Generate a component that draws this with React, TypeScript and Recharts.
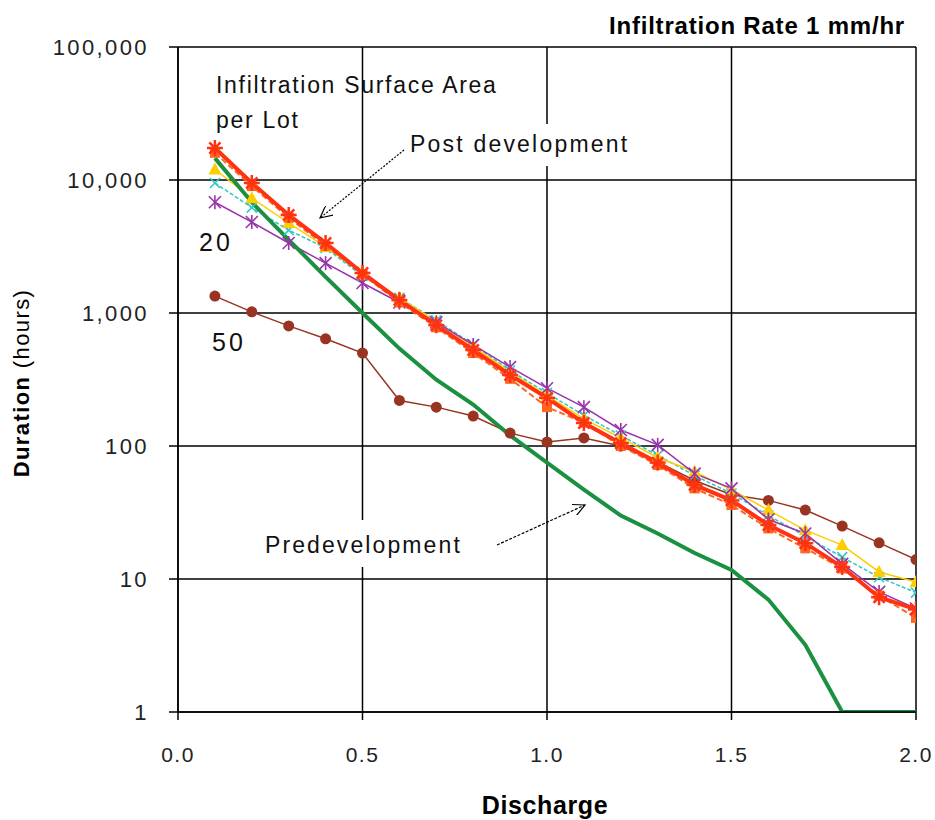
import { LineChart, Line, XAxis, YAxis, CartesianGrid } from 'recharts'

const discharge = [0.1, 0.2, 0.3, 0.4, 0.5, 0.6, 0.7, 0.8, 0.9, 1.0, 1.1, 1.2, 1.3, 1.4, 1.5, 1.6, 1.7, 1.8, 1.9, 2.0]

const predevelopment = [14600, 6800, 3550, 1870, 1000, 540, 315, 205, 120, 75, 47, 30, 22, 15.7, 11.7, 7, 3.2, 1, 1, 1]
const postDevelopment = [17400, 9500, 5460, 3360, 2000, 1250, 810, 527, 342, 230, 149, 105, 75, 51, 39, 25.5, 18.6, 12.3, 7.3, 5.9]
const area5 = [16000, 9000, 5200, 3200, 1950, 1200, 780, 500, 320, 196, 150, 100, 72, 48, 36, 24, 17, 12, 7.5, 5.1]
const area10 = [12000, 7300, 4750, 3140, 2000, 1300, 860, 560, 360, 240, 160, 115, 82, 64, 47, 33, 23.3, 18, 11.3, 9.5]
const area15 = [9500, 6200, 4200, 3080, 1900, 1300, 880, 580, 370, 250, 170, 120, 85, 60, 44, 30, 21, 14.6, 10.3, 7.9]
const area20 = [6800, 4830, 3360, 2370, 1680, 1200, 850, 575, 392, 272, 196, 132, 102, 62, 48, 28, 22, 13, 8, 6]
const area50 = [1340, 1020, 800, 640, 500, 220, 196, 168, 125, 107, 115, 100, 76, 55, 43, 39, 33, 25, 18.7, 14]

const xTicks = [0, 0.5, 1.0, 1.5, 2.0]
const yTicks = [1, 10, 100, 1000, 10000, 100000]

const data = discharge.map((d, i) => ({
  discharge: d,
  predev: predevelopment[i],
  post: postDevelopment[i],
  a5: area5[i],
  a10: area10[i],
  a15: area15[i],
  a20: area20[i],
  a50: area50[i],
}))

const FONT = '"Liberation Sans", Arial, sans-serif'

type Kind = 'star' | 'square' | 'triangle' | 'cross' | 'asterisk' | 'circle'

function marker(kind: Kind, color: string) {
  return (props: any) => {
    const { cx, cy, index } = props
    if (cx == null || cy == null) return <g key={index} />
    if (kind === 'star') {
      const s = 8
      return (
        <g key={index} stroke={color} strokeWidth={2.5}>
          <line x1={cx - s} y1={cy} x2={cx + s} y2={cy} />
          <line x1={cx} y1={cy - s} x2={cx} y2={cy + s} />
          <line x1={cx - s * 0.7} y1={cy - s * 0.7} x2={cx + s * 0.7} y2={cy + s * 0.7} />
          <line x1={cx - s * 0.7} y1={cy + s * 0.7} x2={cx + s * 0.7} y2={cy - s * 0.7} />
        </g>
      )
    }
    if (kind === 'square') {
      return <rect key={index} x={cx - 5} y={cy - 5} width={10} height={10} fill={color} />
    }
    if (kind === 'triangle') {
      return <path key={index} d={`M${cx},${cy - 7} L${cx + 6.5},${cy + 5} L${cx - 6.5},${cy + 5} Z`} fill={color} />
    }
    if (kind === 'cross') {
      const s = 5
      return (
        <g key={index} stroke={color} strokeWidth={1.5}>
          <line x1={cx - s} y1={cy - s} x2={cx + s} y2={cy + s} />
          <line x1={cx - s} y1={cy + s} x2={cx + s} y2={cy - s} />
        </g>
      )
    }
    if (kind === 'asterisk') {
      const s = 6
      return (
        <g key={index} stroke={color} strokeWidth={1.6}>
          <line x1={cx - s} y1={cy - s} x2={cx + s} y2={cy + s} />
          <line x1={cx - s} y1={cy + s} x2={cx + s} y2={cy - s} />
          <line x1={cx} y1={cy - s - 1} x2={cx} y2={cy + s + 1} />
        </g>
      )
    }
    return <circle key={index} cx={cx} cy={cy} r={5.5} fill={color} />
  }
}

const XTick = (props: any) => {
  const { x, y, payload } = props
  return (
    <text x={x} y={y + 40} textAnchor="middle" fontFamily={FONT} fontSize={21} letterSpacing={1.5} fill="#222">
      {Number(payload.value).toFixed(1)}
    </text>
  )
}

const YTick = (props: any) => {
  const { x, y, payload } = props
  return (
    <text x={x - 18} y={y + 8} textAnchor="end" fontFamily={FONT} fontSize={22} letterSpacing={2.4} fill="#222">
      {Number(payload.value).toLocaleString('en-US')}
    </text>
  )
}

export default function App() {
  return (
    <div style={{ position: 'absolute', left: 0, top: 0, width: 935, height: 820, background: '#fff' }}>
      <LineChart width={935} height={820} data={data} margin={{ top: 47, right: 19, left: 0, bottom: 0 }}>
        <CartesianGrid stroke="#000" strokeWidth={1.5} />
        <XAxis
          dataKey="discharge"
          type="number"
          domain={[0, 2]}
          ticks={xTicks}
          height={108}
          stroke="#000"
          strokeWidth={1.5}
          tickSize={8}
          tick={<XTick />}
          allowDataOverflow
        />
        <YAxis
          scale="log"
          domain={[1, 100000]}
          ticks={yTicks}
          width={178}
          stroke="#000"
          strokeWidth={1.5}
          tickSize={9}
          tick={<YTick />}
          allowDataOverflow
        />
        <Line dataKey="a50" stroke="#993322" strokeWidth={1.5} dot={marker('circle', '#993322')} isAnimationActive={false} />
        <Line dataKey="a15" stroke="#33c6c6" strokeWidth={1.5} strokeDasharray="4 2" dot={marker('cross', '#33c6c6')} isAnimationActive={false} />
        <Line dataKey="a10" stroke="#ffcc00" strokeWidth={1.5} dot={marker('triangle', '#ffcc00')} isAnimationActive={false} />
        <Line dataKey="a20" stroke="#9933aa" strokeWidth={1.5} dot={marker('asterisk', '#9933aa')} isAnimationActive={false} />
        <Line dataKey="a5" stroke="#ff6622" strokeWidth={2} strokeDasharray="6 3" dot={marker('square', '#ff6622')} isAnimationActive={false} />
        <Line dataKey="predev" stroke="#1a9040" strokeWidth={4} dot={false} isAnimationActive={false} />
        <Line dataKey="post" stroke="#ff3311" strokeWidth={4} dot={marker('star', '#ff3311')} isAnimationActive={false} />
      </LineChart>
      <svg width={935} height={820} style={{ position: 'absolute', left: 0, top: 0, pointerEvents: 'none' }} fontFamily={FONT}>
        <defs>
          <marker id="arr" markerWidth="14" markerHeight="12" refX="12" refY="6" orient="auto" markerUnits="userSpaceOnUse">
            <path d="M0,0 L12,6 L0,12" fill="none" stroke="#000" strokeWidth={1.2} />
          </marker>
        </defs>
        <text x={905} y={34} textAnchor="end" fontSize={24} fontWeight="bold" letterSpacing={0.8} fill="#000">
          Infiltration Rate 1 mm/hr
        </text>
        <text x={216} y={93} fontSize={23} letterSpacing={1.7} fill="#111">Infiltration Surface Area</text>
        <text x={216} y={128} fontSize={23} letterSpacing={1.7} fill="#111">per Lot</text>
        <rect x={404} y={124} width={238} height={42} fill="#fff" />
        <text x={410} y={152} fontSize={23} letterSpacing={2.2} fill="#111">Post development</text>
        <line x1={404} y1={150} x2={320} y2={218} stroke="#000" strokeWidth={1.2} strokeDasharray="2 1.5" markerEnd="url(#arr)" />
        <text x={199} y={251} fontSize={25} letterSpacing={3} fill="#111">20</text>
        <text x={212} y={351} fontSize={25} letterSpacing={3} fill="#111">50</text>
        <rect x={260} y={520} width={212} height={47} fill="#fff" />
        <text x={265} y={553} fontSize={23} letterSpacing={2.1} fill="#111">Predevelopment</text>
        <line x1={497} y1={545} x2={585} y2={505} stroke="#000" strokeWidth={1.2} strokeDasharray="3 1.5" markerEnd="url(#arr)" />
        <text x={545} y={814} textAnchor="middle" fontSize={25} fontWeight="bold" letterSpacing={0.6} fill="#000">Discharge</text>
        <text transform="translate(29,383) rotate(-90)" textAnchor="middle" fontSize={22} letterSpacing={1.4} fill="#000">
          <tspan fontWeight="bold">Duration</tspan>
          <tspan> (hours)</tspan>
        </text>
      </svg>
    </div>
  )
}
